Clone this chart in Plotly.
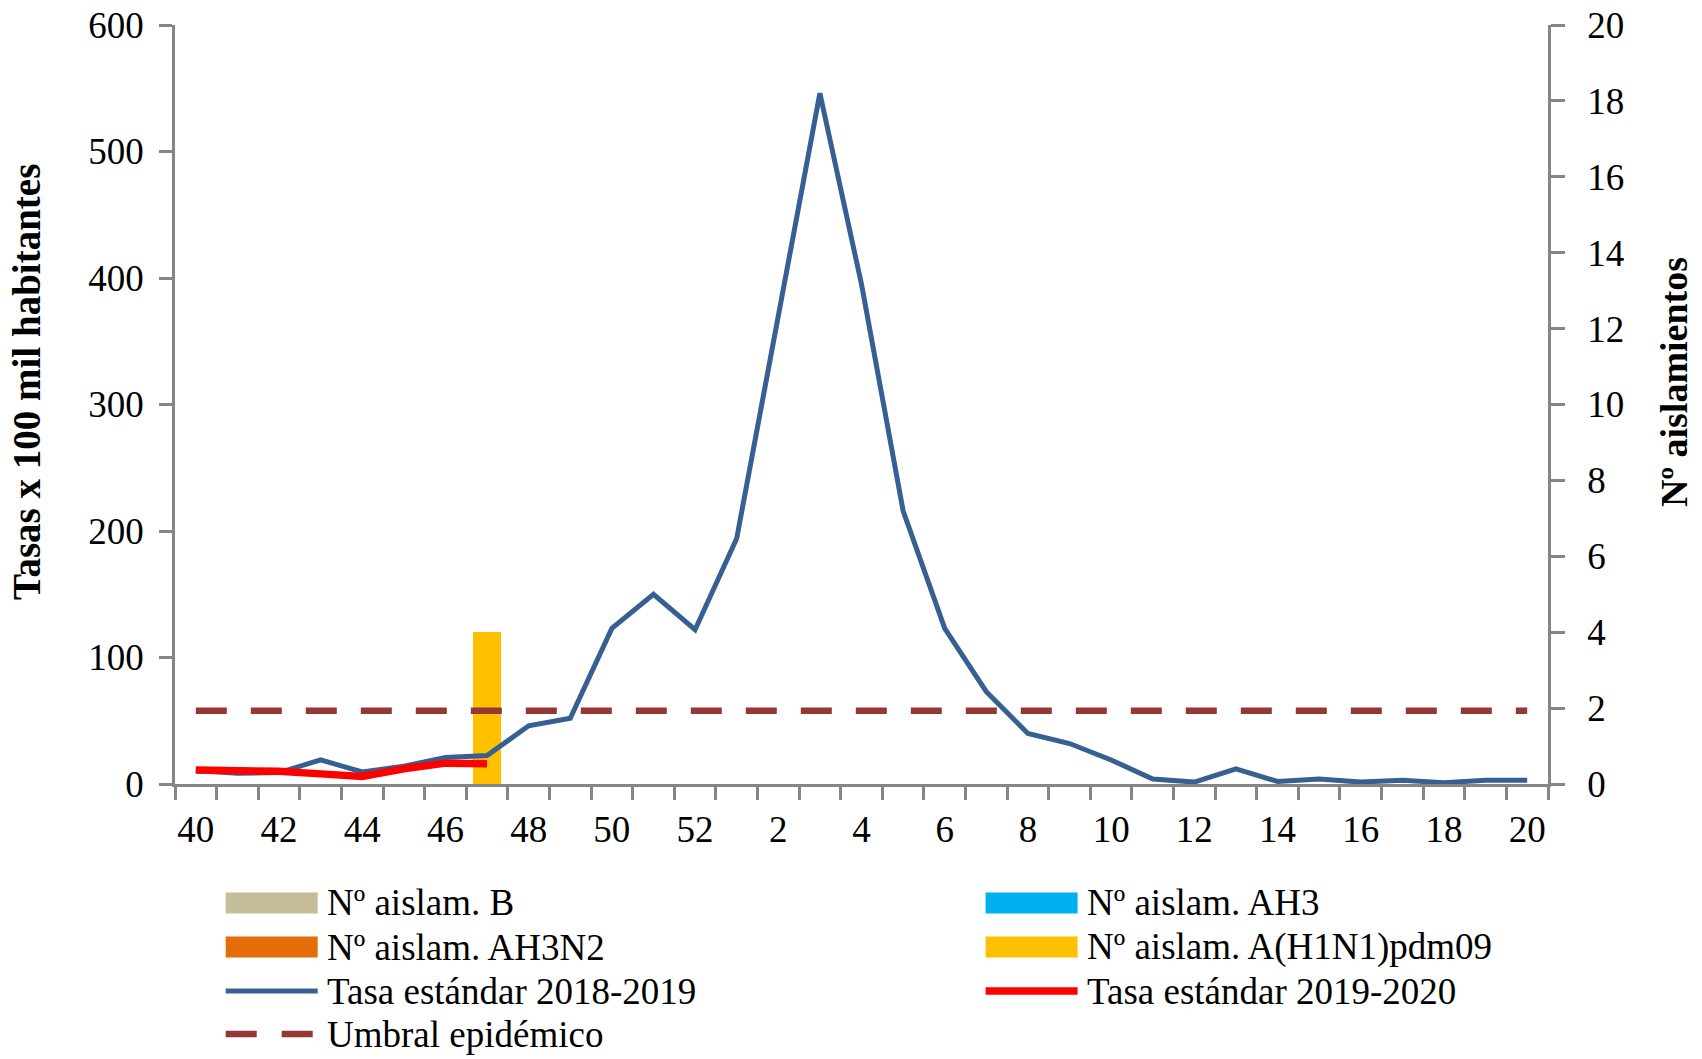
import plotly.graph_objects as go

# ---------------- data ----------------
weeks = ["40", "41", "42", "43", "44", "45", "46", "47", "48", "49", "50", "51", "52",
         "1", "2", "3", "4", "5", "6", "7", "8", "9", "10", "11", "12", "13", "14",
         "15", "16", "17", "18", "19", "20"]
tick_labels = ["40", "", "42", "", "44", "", "46", "", "48", "", "50", "", "52",
               "", "2", "", "4", "", "6", "", "8", "", "10", "", "12", "", "14",
               "", "16", "", "18", "", "20"]

tasa_2018_2019 = [10.6, 8.5, 9, 19, 9.5, 14, 21, 22.5, 46, 52, 123, 150, 122,
                  194, 370, 546, 395, 216, 123, 73, 40, 32, 19, 4, 1.5, 12, 2,
                  4, 1.5, 3, 1, 3, 3]
tasa_2019_2020 = [11, 11, 10, 8, 6, 12, 16.5, 16, None, None, None, None, None,
                  None, None, None, None, None, None, None, None, None, None, None,
                  None, None, None, None, None, None, None, None, None]
umbral_epidemico = 58

aislam_b = [0, 0, 0, 0, 0, 0, 0, 0, 0, 0, 0, 0, 0, 0, 0, 0, 0, 0, 0, 0, 0,
            0, 0, 0, 0, 0, 0, 0, 0, 0, 0, 0, 0]
aislam_ah3 = [0, 0, 0, 0, 0, 0, 0, 0, 0, 0, 0, 0, 0, 0, 0, 0, 0, 0, 0, 0, 0,
              0, 0, 0, 0, 0, 0, 0, 0, 0, 0, 0, 0]
aislam_ah3n2 = [0, 0, 0, 0, 0, 0, 0, 0, 0, 0, 0, 0, 0, 0, 0, 0, 0, 0, 0, 0, 0,
                0, 0, 0, 0, 0, 0, 0, 0, 0, 0, 0, 0]
aislam_h1n1 = [0, 0, 0, 0, 0, 0, 0, 4, 0, 0, 0, 0, 0, 0, 0, 0, 0, 0, 0, 0, 0,
               0, 0, 0, 0, 0, 0, 0, 0, 0, 0, 0, 0]

series_names = ["Nº aislam. B", "Nº aislam. AH3", "Nº aislam. AH3N2",
                "Nº aislam. A(H1N1)pdm09", "Tasa estándar 2018-2019",
                "Tasa estándar 2019-2020", "Umbral epidémico"]
left_title = "Tasas x 100 mil habitantes"
right_title = "Nº aislamientos"

# ---------------- styles ----------------
C_B = "#C4BD97"
C_AH3 = "#00B0F0"
C_AH3N2 = "#E46C0A"
C_H1N1 = "#FFC000"
C_BLUE = "#376092"
C_RED = "#FF0000"
C_UMB = "#953735"
C_AX = "#868686"
FONT = "Liberation Serif"

W, H = 1702, 1059
L, R, T, B = 175, 154, 25, 275
PW, PH = W - L - R, H - T - B


def px(xp):
    return (xp - L) / PW


def py(yp):
    return (H - B - yp) / PH


fig = go.Figure()

bar_series = [(aislam_b, C_B, series_names[0]), (aislam_ah3, C_AH3, series_names[1]),
              (aislam_ah3n2, C_AH3N2, series_names[2]), (aislam_h1n1, C_H1N1, series_names[3])]
for vals, col, nm in bar_series:
    fig.add_trace(go.Bar(x=weeks, y=vals, name=nm, marker=dict(color=col, line=dict(width=0)),
                         width=0.66, yaxis="y", showlegend=False))

fig.add_trace(go.Scatter(x=weeks, y=[umbral_epidemico] * len(weeks), mode="lines",
                         name=series_names[6], yaxis="y2", showlegend=False,
                         line=dict(color=C_UMB, width=6.5, dash="31px,24px")))
fig.add_trace(go.Scatter(x=weeks, y=tasa_2018_2019, mode="lines", name=series_names[4],
                         yaxis="y2", showlegend=False, line=dict(color=C_BLUE, width=5)))
fig.add_trace(go.Scatter(x=weeks, y=tasa_2019_2020, mode="lines", name=series_names[5],
                         yaxis="y2", showlegend=False, line=dict(color=C_RED, width=7.5)))

axis_common = dict(showgrid=False, zeroline=False, showline=True, linecolor=C_AX,
                   linewidth=2.5, ticks="outside", tickcolor=C_AX, tickwidth=2.5,
                   automargin=False,
                   tickfont=dict(family=FONT, size=37, color="black"))

fig.update_layout(
    width=W, height=H,
    margin=dict(l=L, r=R, t=T, b=B, pad=0, autoexpand=False),
    paper_bgcolor="white", plot_bgcolor="white",
    barmode="stack",
    showlegend=False,
    xaxis=dict(type="category", categoryorder="array", categoryarray=weeks,
               tickmode="array", tickvals=weeks, ticktext=tick_labels,
               tickson="boundaries", ticklen=13, range=[-0.5, len(weeks) - 0.5],
               tickangle=0, ticklabelstandoff=11, **axis_common),
    yaxis=dict(side="right", range=[0, 20], dtick=2, tick0=0, ticklen=14,
               ticklabelstandoff=15, anchor="x", **axis_common),
    yaxis2=dict(side="left", overlaying="y", range=[0, 600], dtick=100, tick0=0,
                ticklen=13, ticklabelstandoff=8, anchor="x", **axis_common),
)

# ---------------- axis titles (placed like the reference) ----------------
annotations = [
    dict(xref="paper", yref="paper", x=px(27), y=py(382), xanchor="center",
         yanchor="middle", textangle=-90, showarrow=False, text="<b>" + left_title + "</b>",
         font=dict(family=FONT, size=39, color="black")),
    dict(xref="paper", yref="paper", x=px(1674), y=py(382), xanchor="center",
         yanchor="middle", textangle=-90, showarrow=False, text="<b>" + right_title + "</b>",
         font=dict(family=FONT, size=38, color="black")),
]

# ---------------- custom legend ----------------
col_x = [225.7, 985.6]
sym_w = 92
row_y = [903, 947, 991, 1034]
legend_items = [
    (0, 0, "rect", C_B, series_names[0]),
    (1, 0, "rect", C_AH3, series_names[1]),
    (0, 1, "rect", C_AH3N2, series_names[2]),
    (1, 1, "rect", C_H1N1, series_names[3]),
    (0, 2, "line", C_BLUE, series_names[4]),
    (1, 2, "line_red", C_RED, series_names[5]),
    (0, 3, "dash", C_UMB, series_names[6]),
]
shapes = []
for c, r, kind, col, nm in legend_items:
    x0 = col_x[c]
    x1 = x0 + sym_w
    yc = row_y[r]
    if kind == "rect":
        shapes.append(dict(type="rect", xref="paper", yref="paper",
                           x0=px(x0), x1=px(x1), y0=py(yc - 10.5), y1=py(yc + 10.5),
                           fillcolor=col, line=dict(width=0)))
    elif kind == "line":
        shapes.append(dict(type="line", xref="paper", yref="paper",
                           x0=px(x0), x1=px(x1), y0=py(yc), y1=py(yc),
                           line=dict(color=col, width=5)))
    elif kind == "line_red":
        shapes.append(dict(type="line", xref="paper", yref="paper",
                           x0=px(x0), x1=px(x1), y0=py(yc), y1=py(yc),
                           line=dict(color=col, width=7.5)))
    else:
        shapes.append(dict(type="line", xref="paper", yref="paper",
                           x0=px(x0), x1=px(x1), y0=py(yc), y1=py(yc),
                           line=dict(color=col, width=6.5, dash="31px,25px")))
    annotations.append(dict(xref="paper", yref="paper", x=px(x1 + 7), y=py(yc),
                            xanchor="left", yanchor="middle", showarrow=False,
                            text=nm, font=dict(family=FONT, size=37, color="black")))

fig.update_layout(shapes=shapes, annotations=annotations)

fig.write_html("out.html", config={"displayModeBar": False},
               post_script="document.body.style.margin='0';document.body.style.overflow='hidden';")
